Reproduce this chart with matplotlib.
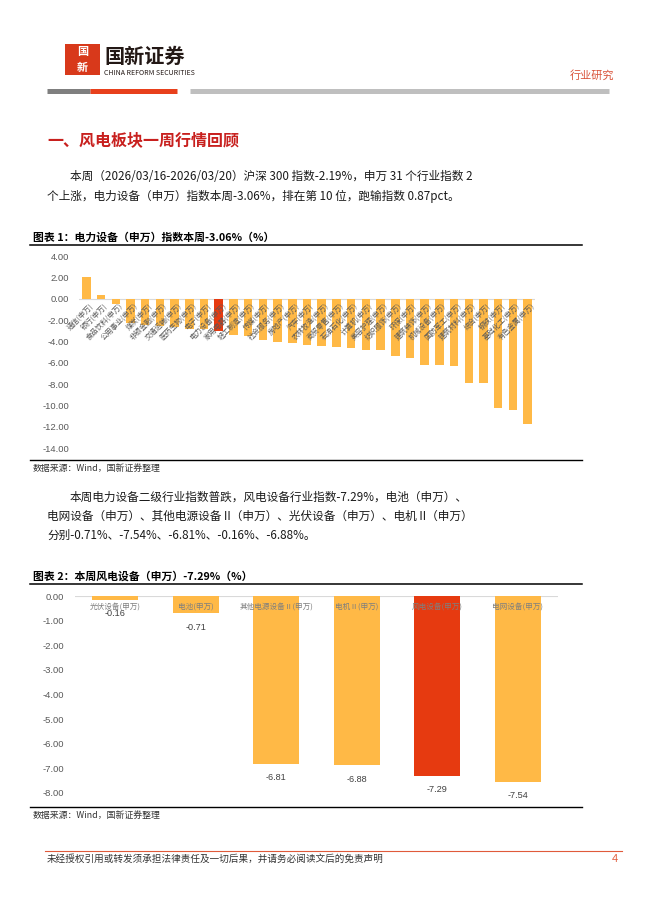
import matplotlib
matplotlib.use("Agg")
import matplotlib.pyplot as plt
from matplotlib.lines import Line2D
from matplotlib.patches import Rectangle

plt.rcParams['font.family'] = ['Noto Sans CJK SC', 'DejaVu Sans']

# chart 1: Shenwan level-1 industries, weekly change (%)
industries = ['通信', '银行', '食品饮料', '公用事业', '煤炭', '非银金融', '交通运输', '医药生物',
              '电子', '电力设备', '家用电器', '轻工制造', '传媒', '社会服务', '房地产', '汽车',
              '农林牧渔', '商贸零售', '石油石化', '计算机', '美容护理', '纺织服饰', '环保',
              '建筑装饰', '机械设备', '国防军工', '建筑材料', '综合', '钢铁', '基础化工', '有色金属']
industry_chg = [2.05, 0.31, -0.50, -2.30, -2.45, -2.55, -2.70, -2.80,
                -2.88, -3.06, -3.37, -3.47, -3.85, -4.02, -4.20, -4.37,
                -4.47, -4.56, -4.58, -4.78, -4.80, -5.40, -5.60,
                -6.25, -6.26, -6.27, -7.94, -7.95, -10.28, -10.47, -11.75]
y1_ticks = [4, 2, 0, -2, -4, -6, -8, -10, -12, -14]
highlight1 = '电力设备'

# chart 2: power equipment level-2 industries
subs = ['光伏设备(申万)', '电池(申万)', '其他电源设备Ⅱ(申万)', '电机Ⅱ(申万)', '风电设备(申万)', '电网设备(申万)']
sub_chg = [-0.16, -0.71, -6.81, -6.88, -7.29, -7.54]
y2_ticks = [0, -1, -2, -3, -4, -5, -6, -7, -8]
highlight2 = '风电设备(申万)'

ORANGE = '#FFB946'
RED = '#E63A10'
GREY = '#595959'
BODY = 8.4

W, H = 662, 914
fig = plt.figure(figsize=(W / 100, H / 100), dpi=100)


def fx(x):
    return x / W


def fy(y):
    return 1 - y / H


def put(x, y, s, **kw):
    kw.setdefault('va', 'center')
    fig.text(fx(x), fy(y), s, **kw)


def hline(x0, x1, y, **kw):
    fig.add_artist(Line2D([fx(x0), fx(x1)], [fy(y), fy(y)], transform=fig.transFigure, **kw))


def axes_px(x, y, w, h):
    return fig.add_axes([fx(x), fy(y + h), w / W, h / H])


# header
fig.add_artist(Rectangle((fx(65), fy(75)), 35 / W, 31 / H, transform=fig.transFigure,
                         facecolor='#D8391B', edgecolor='none'))
put(82.5, 52, '国', fontsize=8, color='white', ha='center', fontweight='bold')
put(82.5, 67, '新', fontsize=8, color='white', ha='center', fontweight='bold')
put(104, 56, '国新证券', fontsize=14.5, fontweight='bold', color='#231815')
put(104, 73, 'CHINA REFORM SECURITIES', fontsize=5.0, color='#231815')
put(570, 75, '行业研究', fontsize=8, color='#D9533A')
hline(47, 90, 91, color='#7F7F7F', lw=3.6, solid_capstyle='butt')
hline(90, 177, 91, color='#E8401C', lw=3.6, solid_capstyle='butt')
hline(190, 609, 91, color='#BFBFBF', lw=3.6, solid_capstyle='butt')

# section heading and text
put(47, 140, '一、风电板块一周行情回顾', fontsize=11.5, fontweight='bold', color='#C8201E')
put(70, 177, '本周（2026/03/16-2026/03/20）沪深 300 指数-2.19%，申万 31 个行业指数 2',
    fontsize=BODY, color='#1A1A1A')
put(47, 196, '个上涨，电力设备（申万）指数本周-3.06%，排在第 10 位，跑输指数 0.87pct。',
    fontsize=BODY, color='#1A1A1A')

# chart 1
put(33, 237, '图表 1：电力设备（申万）指数本周-3.06%（%）', fontsize=7.8, fontweight='bold')
hline(30, 582, 245, color='black', lw=1.1)

ax1 = axes_px(79, 256, 456, 192)
x1 = list(range(len(industries)))
c1 = [RED if n == highlight1 else ORANGE for n in industries]
ax1.bar(x1, industry_chg, width=0.58, color=c1, zorder=2)
ax1.axhline(0, color='#D9D9D9', lw=0.8, zorder=1)
ax1.set_ylim(-14, 4)
ax1.set_xlim(-0.5, len(industries) - 0.5)
ax1.set_yticks(y1_ticks)
ax1.set_yticklabels([f'{t:.2f}' for t in y1_ticks], fontsize=6.8, color=GREY,
                    family=['Liberation Sans', 'DejaVu Sans'])
ax1.tick_params(axis='y', length=0, pad=7)
ax1.set_xticks([])
for s in ax1.spines.values():
    s.set_visible(False)
ax1.patch.set_alpha(0)
for i, n in enumerate(industries):
    ax1.annotate(n + '(申万)', (i, 0), xytext=(2, -2), textcoords='offset points',
                 ha='right', va='top', rotation=45, rotation_mode='anchor',
                 fontsize=5.2, color=GREY, zorder=3)

hline(30, 582, 460, color='black', lw=1.0)
put(33, 468, '数据来源：Wind，国新证券整理', fontsize=6.4, color='#333333')

# paragraph 2
put(70, 497, '本周电力设备二级行业指数普跌，风电设备行业指数-7.29%，电池（申万）、',
    fontsize=BODY, color='#1A1A1A')
put(47, 516, '电网设备（申万）、其他电源设备 II（申万）、光伏设备（申万）、电机 II（申万）',
    fontsize=BODY, color='#1A1A1A')
put(47, 535, '分别-0.71%、-7.54%、-6.81%、-0.16%、-6.88%。', fontsize=BODY, color='#1A1A1A')

# chart 2
put(33, 576, '图表 2：本周风电设备（申万）-7.29%（%）', fontsize=7.8, fontweight='bold')
hline(30, 582, 584, color='black', lw=1.1)

ax2 = axes_px(75, 596, 483, 197)
x2 = list(range(len(subs)))
c2 = [RED if n == highlight2 else ORANGE for n in subs]
ax2.bar(x2, sub_chg, width=0.57, color=c2, zorder=2)
ax2.axhline(0, color='#D9D9D9', lw=0.8, zorder=1)
ax2.set_ylim(-8, 0)
ax2.set_xlim(-0.5, len(subs) - 0.5)
ax2.set_yticks(y2_ticks)
ax2.set_yticklabels([f'{t:.2f}' for t in y2_ticks], fontsize=6.8, color=GREY,
                    family=['Liberation Sans', 'DejaVu Sans'])
ax2.tick_params(axis='y', length=0, pad=8)
ax2.set_xticks([])
for s in ax2.spines.values():
    s.set_visible(False)
ax2.patch.set_alpha(0)
for i, (n, v) in enumerate(zip(subs, sub_chg)):
    ax2.annotate(n, (i, 0), xytext=(0, -7.5), textcoords='offset points',
                 ha='center', va='center', fontsize=5.5, color='#7F7F7F', zorder=3)
    ax2.annotate(f'{v:.2f}', (i, v), xytext=(0, -10), textcoords='offset points',
                 ha='center', va='center', fontsize=6.6, color='#404040',
                 family=['Liberation Sans', 'DejaVu Sans'])

hline(30, 582, 807, color='black', lw=1.0)
put(33, 815, '数据来源：Wind，国新证券整理', fontsize=6.4, color='#333333')

# footer
hline(45, 622, 851, color='#E05A3A', lw=0.8)
put(47, 859, '未经授权引用或转发须承担法律责任及一切后果，并请务必阅读文后的免责声明',
    fontsize=6.9, color='#333333')
put(612, 859, '4', fontsize=8, color='#E05A3A', family=['Liberation Sans', 'DejaVu Sans'])

fig.savefig('out.png', dpi=100)
